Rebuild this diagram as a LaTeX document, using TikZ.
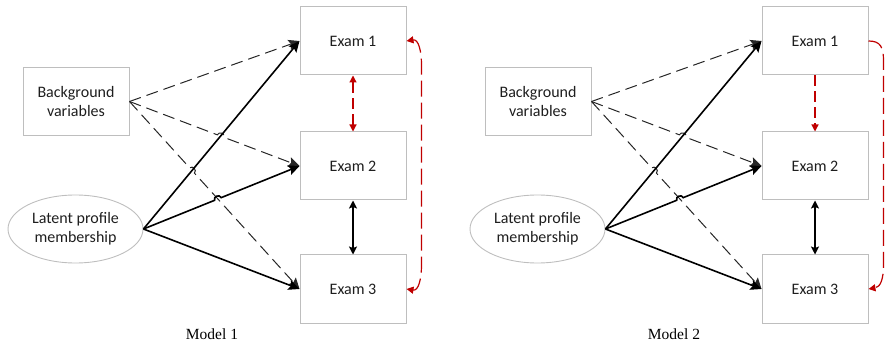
\documentclass[tikz,border=0pt]{standalone}
\usepackage{fontspec}
\setmainfont{Carlito}
\newfontfamily\captionserif{Liberation Serif}
\usetikzlibrary{arrows.meta,shapes.geometric,calc}

\definecolor{boxgray}{RGB}{190,190,190}
\definecolor{pathred}{RGB}{192,0,0}
\definecolor{inkgray}{RGB}{30,30,30}

\tikzset{
  exambox/.style={draw=boxgray, line width=1pt, minimum width=106pt,
    minimum height=68pt, inner sep=0pt, text=inkgray, align=center,
    font=\fontsize{16}{19}\selectfont},
  latent/.style={ellipse, draw=boxgray, line width=0.9pt, minimum width=135pt,
    minimum height=68pt, inner sep=0pt, text=inkgray, align=center,
    font=\fontsize{16}{19}\selectfont},
  effect/.style={line width=1.6pt, black,
    -{Stealth[length=11pt,width=10pt,inset=2pt]}},
  control/.style={line width=1pt, black!85, dash pattern=on 12pt off 6pt,
    -{Stealth[length=11pt,width=10pt,inset=2pt]}},
  residual/.style={line width=1.3pt, black,
    {Stealth[length=8pt,width=8pt,inset=1.5pt]}-{Stealth[length=8pt,width=8pt,inset=1.5pt]}},
  redtip/.style={Triangle[length=7pt,width=7pt]},
  redlink/.style={line width=1.2pt, pathred, dash pattern=on 11pt off 5pt},
  redarc/.style={line width=1.2pt, pathred, dash pattern=on 16pt off 6pt},
  hop/.style={bend left=90, looseness=1.5},
  caption/.style={font=\captionserif\fontsize{15.5}{18}\selectfont, text=black}
}

% One panel: predictors on the left, three exams on the right.
% #1 = name prefix, #2 = horizontal offset, #3 = caption
\newcommand\drawmodel[3]{%
  \begin{scope}[xshift=#2]
    \node[exambox] (#1bg)  at (76,101.5) {Background\\variables};
    \node[latent]  (#1ell) at (75.5,229) {Latent profile\\membership};
    \node[exambox] (#1e1)  at (353,41)  {Exam 1};
    \node[exambox] (#1e2)  at (353,166) {Exam 2};
    \node[exambox] (#1e3)  at (353,289) {Exam 3};
    \node[caption] (#1cap) at (212,334) {#3};
  \end{scope}
  % crossing points used for the line jumps
  \coordinate (#1xa) at (intersection of #1bg.east--#1e2.west and #1ell.east--#1e1.west);
  \coordinate (#1xb) at (intersection of #1bg.east--#1e3.west and #1ell.east--#1e1.west);
  \coordinate (#1xc) at (intersection of #1bg.east--#1e3.west and #1ell.east--#1e2.west);
  % background variables (dashed)
  \draw[control] (#1bg.east) -- (#1e1.west);
  \draw[control] (#1bg.east) -- ($(#1xa)!3.5pt!(#1bg.east)$)
     to[hop] ($(#1xa)!3.5pt!(#1e2.west)$) -- (#1e2.west);
  \draw[control] (#1bg.east) -- ($(#1xb)!3.5pt!(#1bg.east)$)
     to[hop] ($(#1xb)!3.5pt!(#1e3.west)$) -- (#1e3.west);
  % latent profile membership (solid)
  \draw[effect] (#1ell.east) -- (#1e1.west);
  \draw[effect] (#1ell.east) -- ($(#1xc)!3.5pt!(#1ell.east)$)
     to[hop] ($(#1xc)!3.5pt!(#1e2.west)$) -- (#1e2.west);
  \draw[effect] (#1ell.east) -- (#1e3.west);
  % residual covariance between exam 2 and exam 3
  \draw[residual] (#1e2.south) -- (#1e3.north);
}

\begin{document}
\begin{tikzpicture}[x=1pt, y=-1pt]
  \useasboundingbox (0,0) rectangle (888,347);

  \drawmodel{a}{0}{Model 1}
  \drawmodel{b}{462}{Model 2}

  % Model 1: exam covariances
  \draw[redlink, {Triangle[length=7pt,width=7pt]}-{Triangle[length=7pt,width=7pt]}]
    (ae1.south) -- (ae2.north);
  \draw[redarc, {Triangle[length=7pt,width=7pt]}-{Triangle[length=7pt,width=7pt]}]
    (ae1.east) .. controls ($(ae1.east)+(12,-2)$) and ($(ae1.east)+(15,10)$) ..
    ($(ae1.east)+(15,24)$) -- ($(ae3.east)+(15,-24)$)
    .. controls ($(ae3.east)+(15,-10)$) and ($(ae3.east)+(12,2)$) .. (ae3.east);

  % Model 2: directed paths between exams
  \draw[redlink, -{Triangle[length=7pt,width=7pt]}] (be1.south) -- (be2.north);
  \draw[redarc, -{Triangle[length=7pt,width=7pt]}]
    (be1.east) .. controls ($(be1.east)+(12,0)$) and ($(be1.east)+(15,6)$) ..
    ($(be1.east)+(15,20)$) -- ($(be3.east)+(15,-24)$)
    .. controls ($(be3.east)+(15,-10)$) and ($(be3.east)+(12,-2)$) .. (be3.east);
\end{tikzpicture}
\end{document}
